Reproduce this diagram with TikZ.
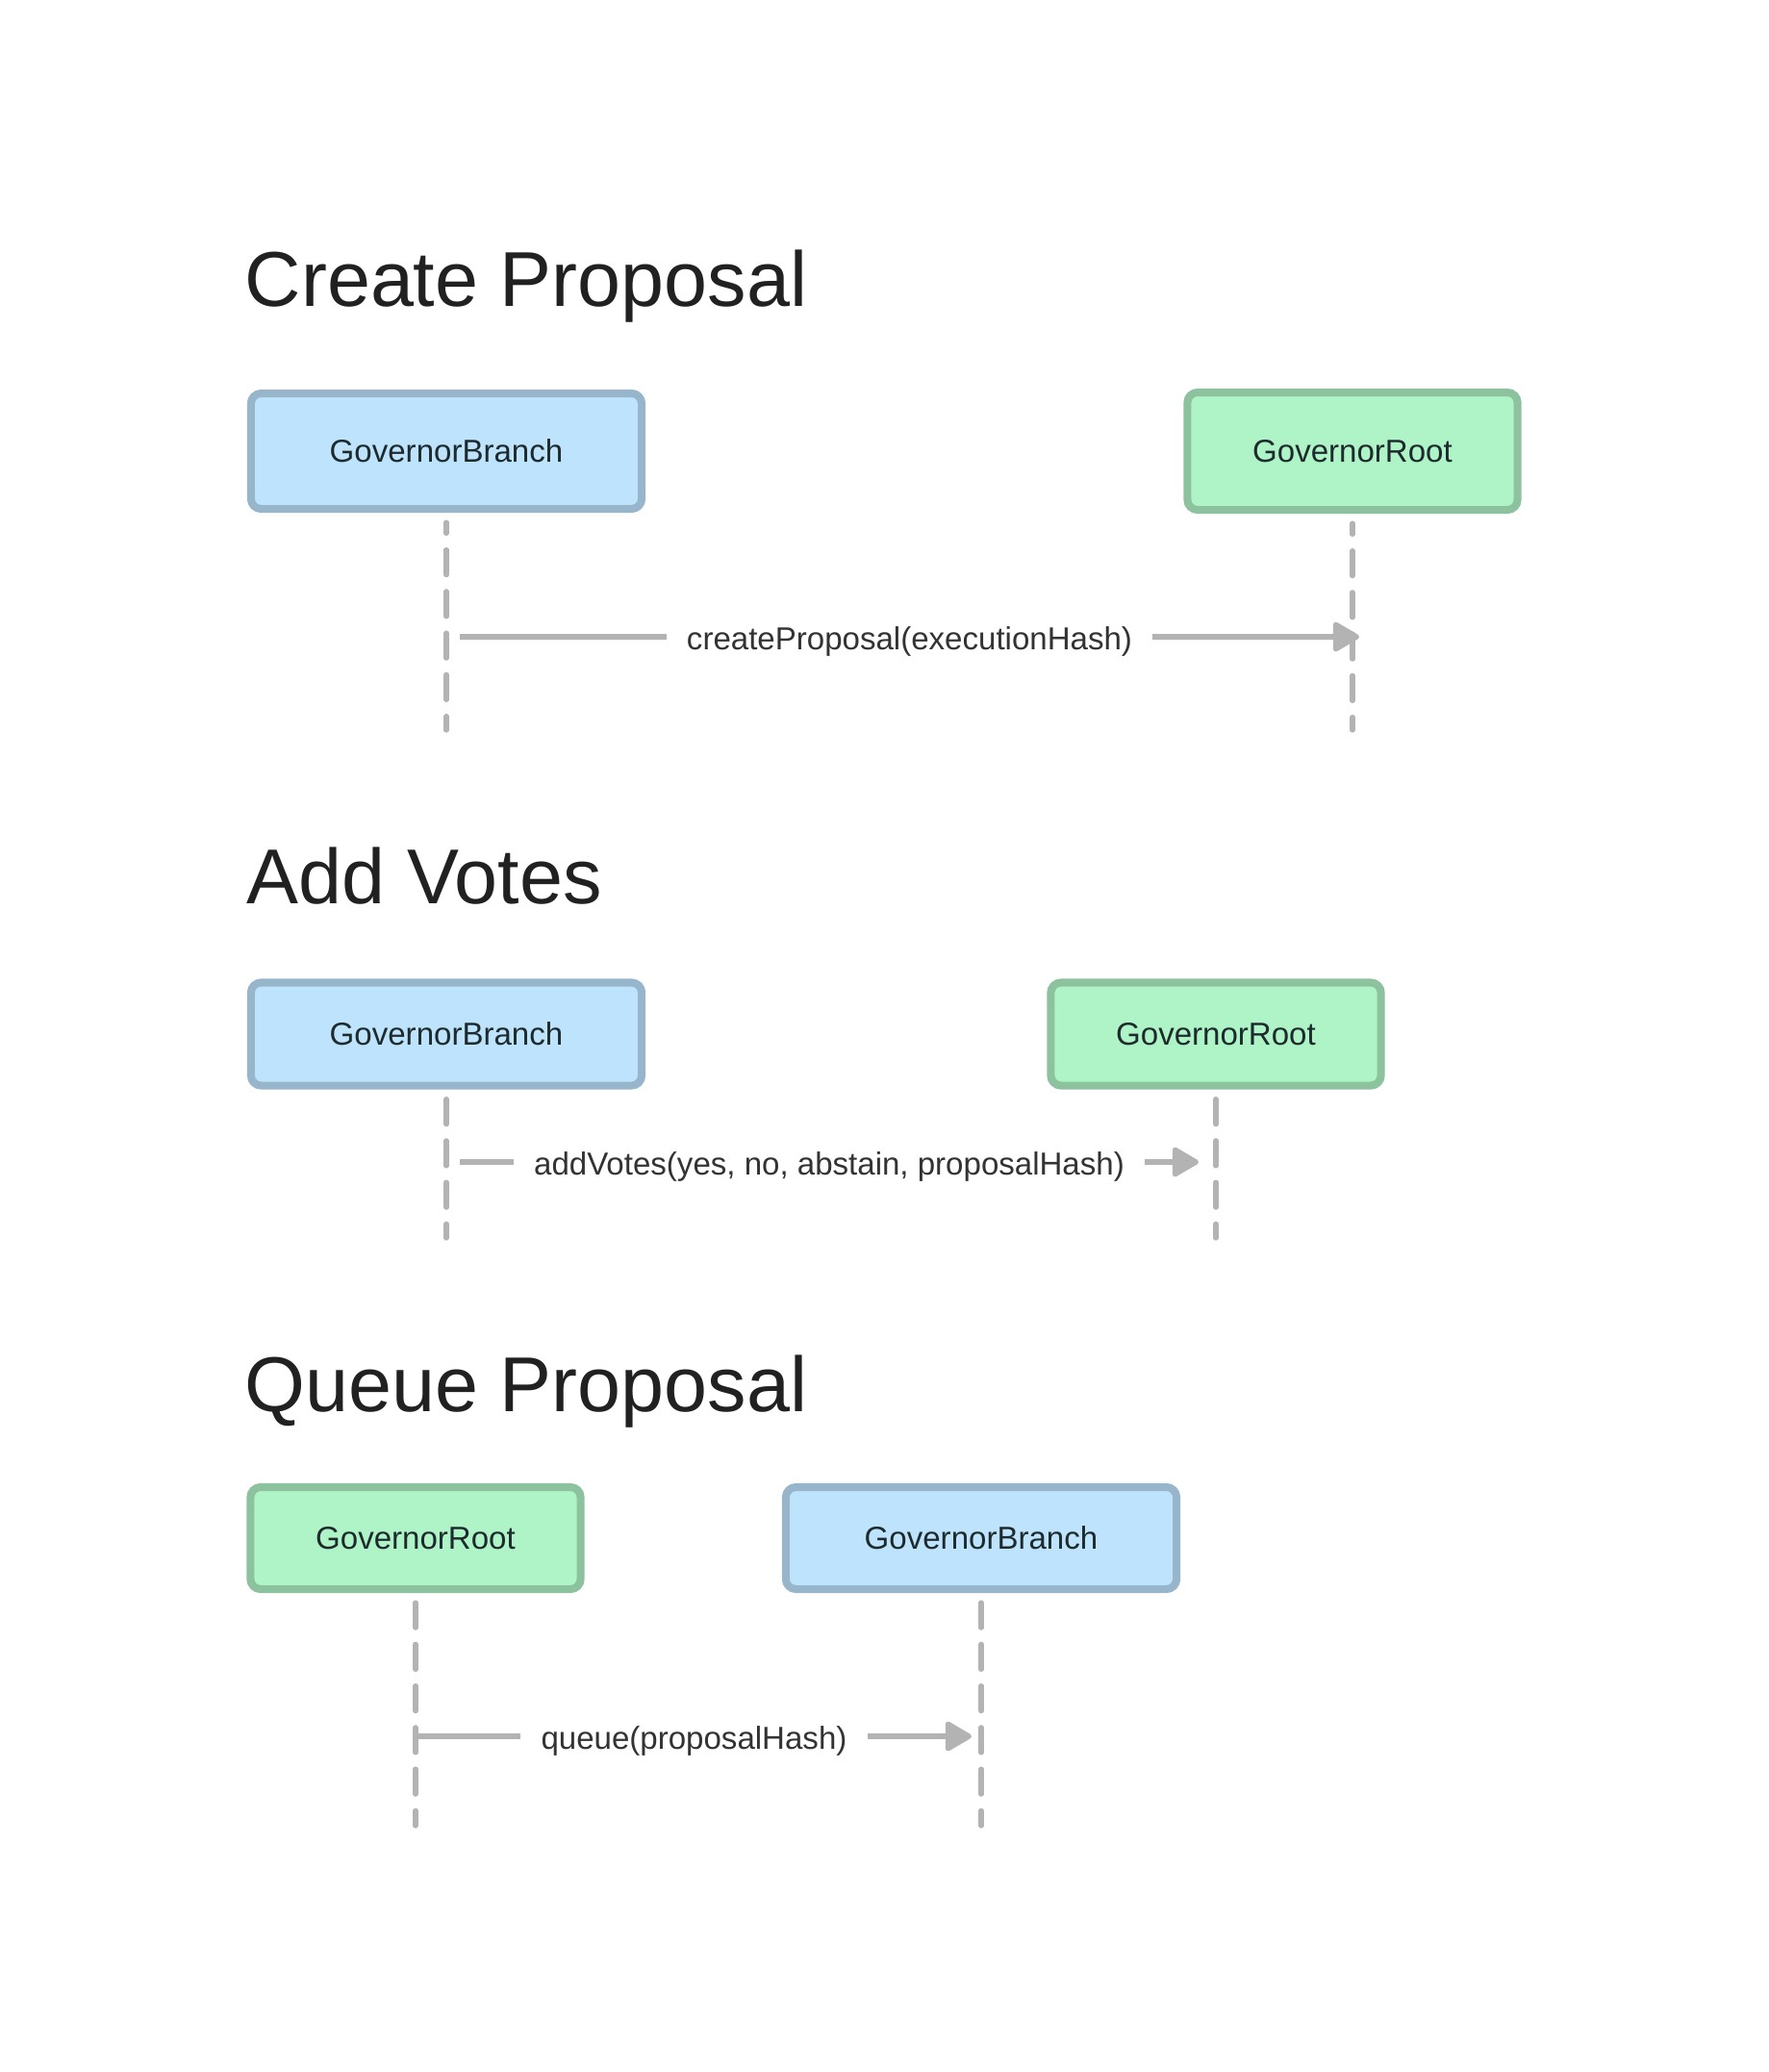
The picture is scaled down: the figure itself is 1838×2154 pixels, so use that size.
\documentclass[tikz,border=0pt]{standalone}
\usepackage{fontspec}
\setmainfont{Liberation Sans}
\usetikzlibrary{arrows.meta}

\definecolor{branchfill}{HTML}{BEE3FC}
\definecolor{branchline}{HTML}{97B6CC}
\definecolor{rootfill}{HTML}{AFF4C6}
\definecolor{rootline}{HTML}{8CC29E}
\definecolor{msggray}{HTML}{B3B3B3}
\definecolor{inktext}{HTML}{1E2B2E}

\tikzset{
  sectitle/.style={anchor=base west, inner sep=0pt, text=black!87, font=\fontsize{23}{28}\selectfont},
  actor/.style={rounded corners=3pt, line width=2.3pt, minimum width=4.06cm, minimum height=1.1cm, text=inktext, font=\fontsize{9.4}{11}\selectfont},
  branch/.style={actor, fill=branchfill, draw=branchline},
  root/.style={actor, fill=rootfill, draw=rootline, minimum width=3.43cm},
  lifeline/.style={msggray, line width=1.5pt, dash pattern=on 7.4pt off 4.9pt, line cap=round},
  msg/.style={msggray, line width=1.5pt, -{Triangle[length=8.5pt,width=9.5pt,round]}},
  msglabel/.style={fill=white, text=black!80, inner xsep=6pt, yshift=-1.5pt, font=\fontsize{9.4}{11}\selectfont}
}

\begin{document}
\begin{tikzpicture}[x=0.01cm,y=-0.01cm]
  \useasboundingbox (0,0) rectangle (1838,2154);

  % create proposal
  \node[sectitle] (t1) at (254,318) {Create Proposal};
  \node[branch, minimum height=1.2cm] (b1) at (464,469) {GovernorBranch};
  \node[root, minimum height=1.22cm] (r1) at (1406,469) {GovernorRoot};
  \draw[lifeline, dash phase=4.2pt] ([yshift=-1mm]b1.south) -- (b1 |- 0,759);
  \draw[lifeline, dash phase=4.2pt] ([yshift=-1mm]r1.south) -- (r1 |- 0,759);
  \coordinate (c1from) at (478,662);
  \coordinate (c1to) at (1413,662);
  \draw[msg] (c1from) -- (c1to) node[midway, msglabel] {createProposal(executionHash)};

  % add votes
  \node[sectitle] (t2) at (256,939) {Add Votes};
  \node[branch, minimum height=1.07cm] (b2) at (464,1075) {GovernorBranch};
  \node[root, minimum height=1.07cm] (r2) at (1264,1075) {GovernorRoot};
  \draw[lifeline] ([yshift=-1mm]b2.south) -- (b2 |- 0,1287);
  \draw[lifeline] ([yshift=-1mm]r2.south) -- (r2 |- 0,1287);
  \coordinate (c2from) at (478,1208);
  \coordinate (c2to) at (1246,1208);
  \draw[msg] (c2from) -- (c2to) node[midway, msglabel] {addVotes(yes, no, abstain, proposalHash)};

  % queue proposal
  \node[sectitle] (t3) at (254,1467) {Queue Proposal};
  \node[root, minimum height=1.06cm] (r3) at (432,1599) {GovernorRoot};
  \node[branch, minimum height=1.06cm] (b3) at (1020,1599) {GovernorBranch};
  \draw[lifeline] ([yshift=-1mm]r3.south) -- (r3 |- 0,1898);
  \draw[lifeline] ([yshift=-1mm]b3.south) -- (b3 |- 0,1898);
  \coordinate (c3from) at (433,1805);
  \coordinate (c3to) at (1010,1805);
  \draw[msg] (c3from) -- (c3to) node[midway, msglabel] {queue(proposalHash)};
\end{tikzpicture}
\end{document}
